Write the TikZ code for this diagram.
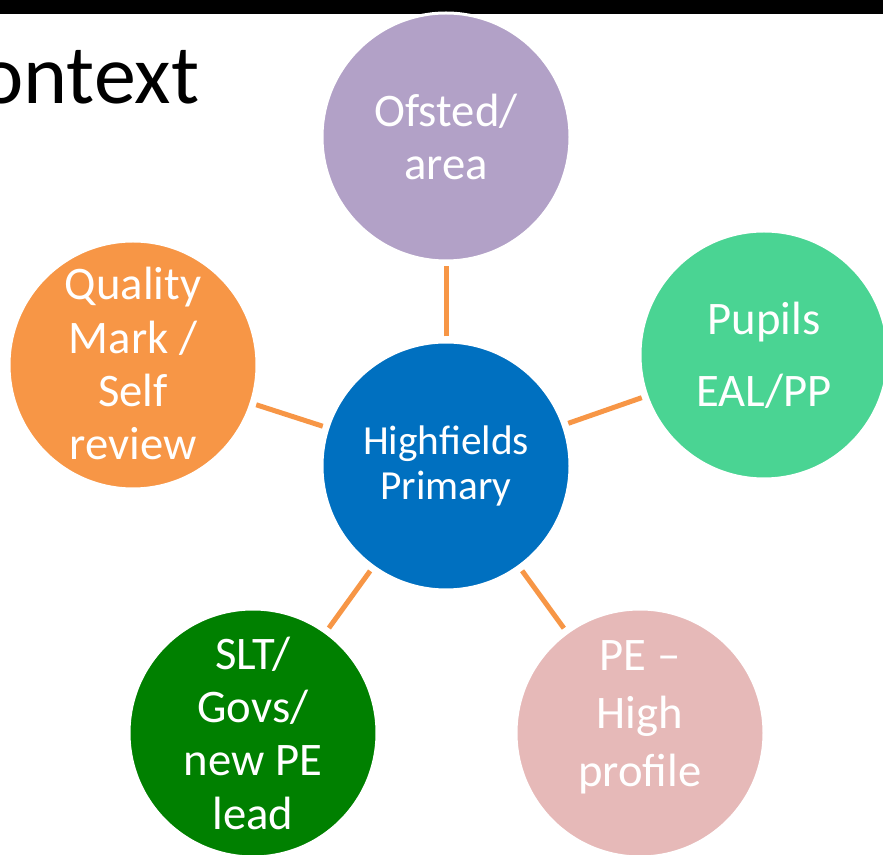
\documentclass[tikz,border=0pt]{standalone}
\usepackage{fontspec}
\setmainfont{Carlito}
\usepackage{xcolor}

\definecolor{ofstedpurple}{HTML}{B2A1C7}
\definecolor{hubblue}{HTML}{0070C0}
\definecolor{pupilgreen}{HTML}{4AD493}
\definecolor{qmorange}{HTML}{F79646}
\definecolor{sltgreen}{HTML}{008000}
\definecolor{pepink}{HTML}{E6B9B8}
\definecolor{linkorange}{HTML}{F79646}

\begin{document}
\begin{tikzpicture}[x=0.75pt,y=-0.75pt,
    bubble/.style={circle,draw=white,line width=2.25pt,minimum size=186pt,inner sep=0pt},
    btext/.style={text=white,align=center,inner sep=0pt,font=\fontsize{35}{40}\selectfont},
    link/.style={draw=linkorange,line width=3.75pt,shorten <=3pt,shorten >=3pt}]
    \useasboundingbox (0,0) rectangle (883,855);
    \fill[black] (0,0) rectangle (883,14);
    \node[anchor=base west,inner sep=0pt,font=\fontsize{63}{72}\selectfont] (title) at (-21,104) {ontext};

    % circles
    \node[bubble,fill=hubblue] (hub) at (446,466) {};
    \node[bubble,fill=ofstedpurple] (ofs) at (446,137) {};
    \node[bubble,fill=pupilgreen] (pup) at (764,355) {};
    \node[bubble,fill=qmorange] (qm) at (133,365) {};
    \node[bubble,fill=sltgreen] (slt) at (253,733) {};
    \node[bubble,fill=pepink] (pe) at (640,733) {};

    % texts
    \node[btext,font=\fontsize{31}{34}\selectfont] (hub-t) at (hub) {Highfields\\Primary};
    \node[btext] (ofs-t) at (ofs) {Ofsted/\\area};
    \node[btext,font=\fontsize{35}{54}\selectfont] (pup-t) at (pup) {Pupils\\EAL/PP};
    \node[btext] (qm-t) at ([yshift=1pt]qm) {Quality\\Mark /\\Self\\review};
    \node[btext] (slt-t) at (slt) {SLT/\\Govs/\\new PE\\lead};
    \node[btext,font=\fontsize{35}{43.5}\selectfont] (pe-t) at ([yshift=12pt]pe) {PE –\\High\\profile};

    \draw[link] (hub) -- (ofs);
    \draw[link] (hub) -- (pup);
    \draw[link] (hub) -- (qm);
    \draw[link] (hub) -- (slt);
    \draw[link] (hub) -- (pe);
\end{tikzpicture}
\end{document}
